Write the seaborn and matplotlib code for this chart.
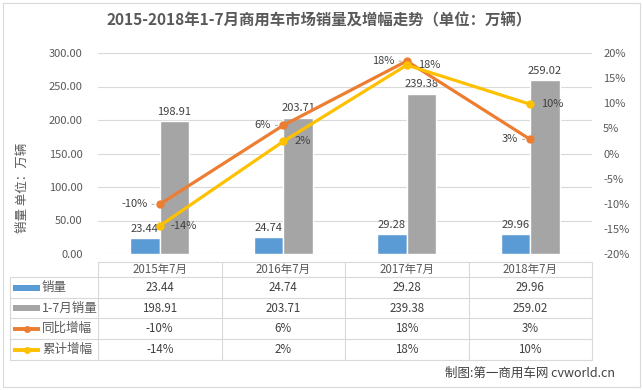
import numpy as np
import pandas as pd
import matplotlib
matplotlib.use('Agg')
import matplotlib.pyplot as plt
import seaborn as sns

# data
categories = ['2015年7月', '2016年7月', '2017年7月', '2018年7月']
monthly_sales = [23.44, 24.74, 29.28, 29.96]
ytd_sales = [198.91, 203.71, 239.38, 259.02]
yoy_growth = [-0.101, 0.056, 0.184, 0.028]
ytd_growth = [-0.144, 0.024, 0.176, 0.098]
series_names = ['销量', '1-7月销量', '同比增幅', '累计增幅']

BLUE, GRAY, ORANGE, YELLOW = '#5B9BD5', '#A5A5A5', '#ED7D31', '#FFC000'
TXT = '#595959'
LINE = '#D9D9D9'

sns.set_theme(style='white')
plt.rcParams['font.family'] = ['Noto Sans CJK SC', 'DejaVu Sans']

W, H = 643, 390
fig = plt.figure(figsize=(W / 100, H / 100), dpi=100)

# plot area in pixel terms
x0, x1, y_top, y_bot = 98, 592, 53, 254
ax = fig.add_axes([x0 / W, 1 - y_bot / H, (x1 - x0) / W, (y_bot - y_top) / H])

df = pd.DataFrame({
    'cat': categories * 2,
    'val': monthly_sales + ytd_sales,
    'series': [series_names[0]] * 4 + [series_names[1]] * 4,
})
sns.barplot(data=df, x='cat', y='val', hue='series', palette=[BLUE, GRAY],
            width=0.48, gap=0, saturation=1, legend=False, ax=ax, zorder=2)
for cont in ax.containers:
    ax.bar_label(cont, labels=[f'{b.get_height():.2f}' for b in cont],
                 padding=3, fontsize=8, color='#404040')

ax.set_xlim(-0.5, 3.5)
ax.set_ylim(0, 300)
ax.set_yticks(np.arange(0, 301, 50))
ax.set_yticklabels([f'{v:.2f}' for v in np.arange(0, 301, 50)])
ax.set_xticks([])
ax.set_xlabel('')
ax.set_ylabel('')
ax.grid(axis='y', color=LINE, lw=0.8, zorder=0)
ax.set_axisbelow(True)
for s in ax.spines.values():
    s.set_visible(False)
ax.tick_params(axis='y', length=0, pad=11, labelsize=8, labelcolor=TXT)

ax2 = ax.twinx()
idx = np.arange(len(categories))
sns.lineplot(x=idx, y=yoy_growth, ax=ax2, color=ORANGE, lw=2.3, marker='o',
             markersize=6, markeredgewidth=0)
sns.lineplot(x=idx, y=ytd_growth, ax=ax2, color=YELLOW, lw=2.3, marker='o',
             markersize=6, markeredgewidth=0)
ax2.set_ylim(-0.2, 0.2)
pt = np.linspace(-0.2, 0.2, 9)
ax2.set_yticks(pt)
ax2.set_yticklabels([f'{v:.0%}' for v in pt])
ax2.grid(False)
for s in ax2.spines.values():
    s.set_visible(False)
ax2.tick_params(axis='y', length=0, pad=8, labelsize=8, labelcolor=TXT)

lead = dict(arrowstyle='-', color='#A6A6A6', lw=0.7, shrinkA=1, shrinkB=4)
for i, v in enumerate(yoy_growth):
    ax2.annotate(f'{v:.0%}', (i, v), xytext=(-9, 0), textcoords='offset points',
                 ha='right', va='center', fontsize=8, color='#404040',
                 arrowprops=lead)
for i, v in enumerate(ytd_growth):
    ax2.annotate(f'{v:.0%}', (i, v), xytext=(8, 0), textcoords='offset points',
                 ha='left', va='center', fontsize=8, color='#404040')

# overlay for title, data table and frame, in pixel coordinates
ov = fig.add_axes([0, 0, 1, 1], facecolor='none')
ov.set_xlim(0, W)
ov.set_ylim(H, 0)
ov.axis('off')

ov.add_patch(plt.Rectangle((3, 3), W - 6, H - 6, fill=False, ec=LINE, lw=0.8))
ov.text(319, 20, '2015-2018年1-7月商用车市场销量及增幅走势（单位：万辆）',
        ha='center', va='center', fontsize=11.1, fontweight='bold', color=TXT)
ov.text(22, 188, '销量 单位：万辆', rotation=90, ha='center', va='center',
        fontsize=9, color=TXT)

col_x = np.linspace(x0, x1, len(categories) + 1)
row_y = [262, 277, 298, 318, 339, 360]
# table grid
ov.plot([x0, x1], [row_y[0], row_y[0]], color=LINE, lw=0.8)
for y in row_y[1:]:
    ov.plot([10, x1], [y, y], color=LINE, lw=0.8)
for x in col_x:
    ov.plot([x, x], [row_y[0], row_y[-1]], color=LINE, lw=0.8)
ov.plot([10, 10], [row_y[1], row_y[-1]], color=LINE, lw=0.8)

cx = (col_x[:-1] + col_x[1:]) / 2
for c, name in zip(cx, categories):
    ov.text(c, (row_y[0] + row_y[1]) / 2, name, ha='center', va='center',
            fontsize=8.3, color=TXT)

rows = [
    [f'{v:.2f}' for v in monthly_sales],
    [f'{v:.2f}' for v in ytd_sales],
    [f'{v:.0%}' for v in yoy_growth],
    [f'{v:.0%}' for v in ytd_growth],
]
key_colors = [BLUE, GRAY, ORANGE, YELLOW]
for r, (name, vals, kc) in enumerate(zip(series_names, rows, key_colors)):
    yc = (row_y[r + 1] + row_y[r + 2]) / 2
    if r < 2:
        ov.add_patch(plt.Rectangle((13, yc - 3), 27, 6, color=kc, lw=0))
    else:
        ov.plot([13, 40], [yc, yc], color=kc, lw=2.8, solid_capstyle='butt')
        ov.plot([26.5], [yc], 'o', color=kc, ms=5, mew=0)
    ov.text(42, yc, name, ha='left', va='center', fontsize=9, color=TXT)
    for c, t in zip(cx, vals):
        ov.text(c, yc, t, ha='center', va='center', fontsize=8.3, color='#404040')

ov.text(615, 373, '制图:第一商用车网 cvworld.cn', ha='right', va='center',
        fontsize=9, color='#404040')

fig.savefig('out.png', dpi=100)
